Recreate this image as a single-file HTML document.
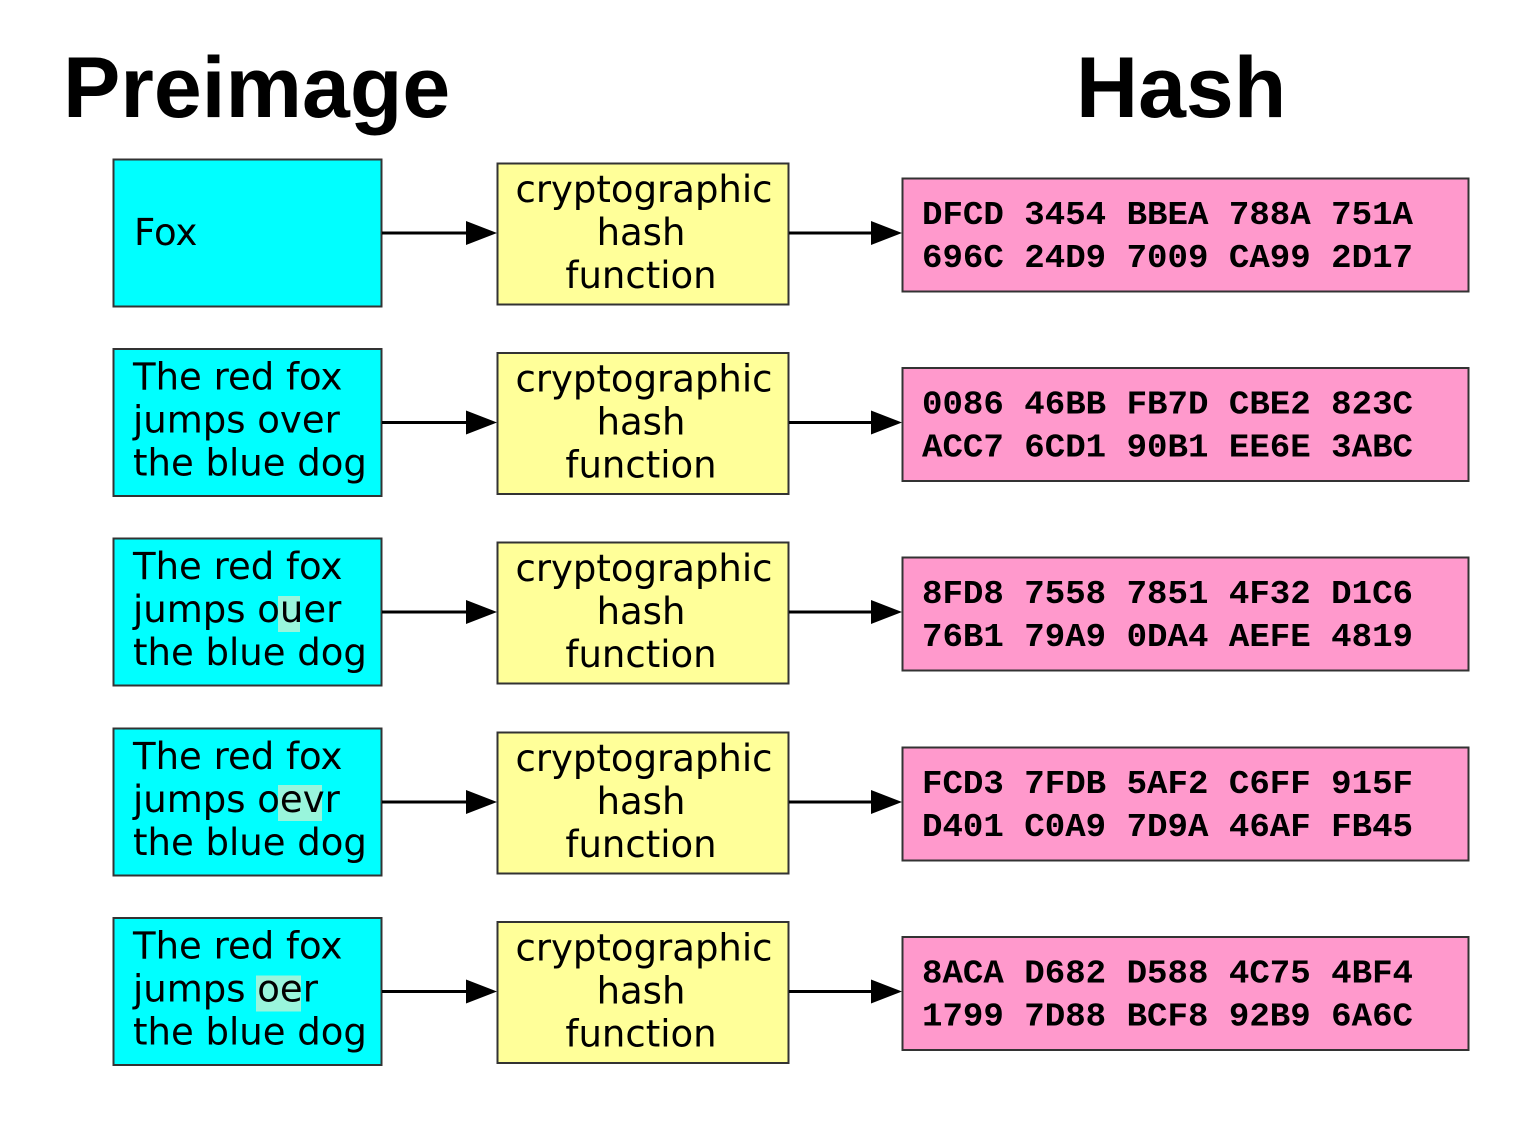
<!DOCTYPE html>
<html><head><meta charset="utf-8"><style>html,body{margin:0;padding:0;background:#fff}</style></head>
<body>
<svg width="1538" height="1122" viewBox="0 0 1538 1122" xmlns="http://www.w3.org/2000/svg">
<text x="63" y="117" font-family="Liberation Sans, sans-serif" font-weight="bold" font-size="86">Preimage</text>
<text x="1076" y="117" font-family="Liberation Sans, sans-serif" font-weight="bold" font-size="86">Hash</text>
<g font-family="DejaVu Sans, sans-serif" font-size="37">
<g>
<rect x="113.5" y="159.5" width="268" height="147" fill="#00ffff" stroke="#333" stroke-width="2"/>
<text x="134" y="245">Fox</text>
</g>
<g transform="translate(0,189.5)">
<rect x="113.5" y="159.5" width="268" height="147" fill="#00ffff" stroke="#333" stroke-width="2"/>
<text x="133" y="200">The red fox</text><text x="133" y="243">jumps over</text><text x="133" y="286">the blue dog</text>
</g>
<g transform="translate(0,379)">
<rect x="113.5" y="159.5" width="268" height="147" fill="#00ffff" stroke="#333" stroke-width="2"/>
<rect x="278" y="217" width="22" height="36" fill="#99f5dc"/>
<text x="133" y="200">The red fox</text><text x="133" y="243">jumps ouer</text><text x="133" y="286">the blue dog</text>
</g>
<g transform="translate(0,569)">
<rect x="113.5" y="159.5" width="268" height="147" fill="#00ffff" stroke="#333" stroke-width="2"/>
<rect x="278" y="216" width="44" height="36" fill="#99f5dc"/>
<text x="133" y="200">The red fox</text><text x="133" y="243">jumps oevr</text><text x="133" y="286">the blue dog</text>
</g>
<g transform="translate(0,758.5)">
<rect x="113.5" y="159.5" width="268" height="147" fill="#00ffff" stroke="#333" stroke-width="2"/>
<rect x="256" y="217" width="45" height="36" fill="#99f5dc"/>
<text x="133" y="200">The red fox</text><text x="133" y="243">jumps oer</text><text x="133" y="286">the blue dog</text>
</g>
</g>

<g>
<rect x="497.5" y="163.5" width="291" height="141" fill="#ffff99" stroke="#333" stroke-width="2"/>
<g font-family="DejaVu Sans, sans-serif" font-size="37" text-anchor="middle"><text x="644" y="202">cryptographic</text><text x="641" y="245">hash</text><text x="641" y="288">function</text></g>
<rect x="902.5" y="178.5" width="566" height="113" fill="#ff99cc" stroke="#333" stroke-width="2"/>
<g font-family="Liberation Mono, monospace" font-size="33" font-weight="bold"><text x="922" y="224" textLength="491" lengthAdjust="spacingAndGlyphs">DFCD 3454 BBEA 788A 751A</text><text x="922" y="267" textLength="491" lengthAdjust="spacingAndGlyphs">696C 24D9 7009 CA99 2D17</text></g>
<line x1="382" y1="233" x2="468" y2="233" stroke="#000" stroke-width="3"/><polygon points="466,221 497,233 466,245" fill="#000"/>
<line x1="789" y1="233" x2="873" y2="233" stroke="#000" stroke-width="3"/><polygon points="871,221 902,233 871,245" fill="#000"/>
</g>

<g transform="translate(0,189.5)">
<rect x="497.5" y="163.5" width="291" height="141" fill="#ffff99" stroke="#333" stroke-width="2"/>
<g font-family="DejaVu Sans, sans-serif" font-size="37" text-anchor="middle"><text x="644" y="202">cryptographic</text><text x="641" y="245">hash</text><text x="641" y="288">function</text></g>
<rect x="902.5" y="178.5" width="566" height="113" fill="#ff99cc" stroke="#333" stroke-width="2"/>
<g font-family="Liberation Mono, monospace" font-size="33" font-weight="bold"><text x="922" y="224" textLength="491" lengthAdjust="spacingAndGlyphs">0086 46BB FB7D CBE2 823C</text><text x="922" y="267" textLength="491" lengthAdjust="spacingAndGlyphs">ACC7 6CD1 90B1 EE6E 3ABC</text></g>
<line x1="382" y1="233" x2="468" y2="233" stroke="#000" stroke-width="3"/><polygon points="466,221 497,233 466,245" fill="#000"/>
<line x1="789" y1="233" x2="873" y2="233" stroke="#000" stroke-width="3"/><polygon points="871,221 902,233 871,245" fill="#000"/>
</g>

<g transform="translate(0,379)">
<rect x="497.5" y="163.5" width="291" height="141" fill="#ffff99" stroke="#333" stroke-width="2"/>
<g font-family="DejaVu Sans, sans-serif" font-size="37" text-anchor="middle"><text x="644" y="202">cryptographic</text><text x="641" y="245">hash</text><text x="641" y="288">function</text></g>
<rect x="902.5" y="178.5" width="566" height="113" fill="#ff99cc" stroke="#333" stroke-width="2"/>
<g font-family="Liberation Mono, monospace" font-size="33" font-weight="bold"><text x="922" y="224" textLength="491" lengthAdjust="spacingAndGlyphs">8FD8 7558 7851 4F32 D1C6</text><text x="922" y="267" textLength="491" lengthAdjust="spacingAndGlyphs">76B1 79A9 0DA4 AEFE 4819</text></g>
<line x1="382" y1="233" x2="468" y2="233" stroke="#000" stroke-width="3"/><polygon points="466,221 497,233 466,245" fill="#000"/>
<line x1="789" y1="233" x2="873" y2="233" stroke="#000" stroke-width="3"/><polygon points="871,221 902,233 871,245" fill="#000"/>
</g>

<g transform="translate(0,569)">
<rect x="497.5" y="163.5" width="291" height="141" fill="#ffff99" stroke="#333" stroke-width="2"/>
<g font-family="DejaVu Sans, sans-serif" font-size="37" text-anchor="middle"><text x="644" y="202">cryptographic</text><text x="641" y="245">hash</text><text x="641" y="288">function</text></g>
<rect x="902.5" y="178.5" width="566" height="113" fill="#ff99cc" stroke="#333" stroke-width="2"/>
<g font-family="Liberation Mono, monospace" font-size="33" font-weight="bold"><text x="922" y="224" textLength="491" lengthAdjust="spacingAndGlyphs">FCD3 7FDB 5AF2 C6FF 915F</text><text x="922" y="267" textLength="491" lengthAdjust="spacingAndGlyphs">D401 C0A9 7D9A 46AF FB45</text></g>
<line x1="382" y1="233" x2="468" y2="233" stroke="#000" stroke-width="3"/><polygon points="466,221 497,233 466,245" fill="#000"/>
<line x1="789" y1="233" x2="873" y2="233" stroke="#000" stroke-width="3"/><polygon points="871,221 902,233 871,245" fill="#000"/>
</g>

<g transform="translate(0,758.5)">
<rect x="497.5" y="163.5" width="291" height="141" fill="#ffff99" stroke="#333" stroke-width="2"/>
<g font-family="DejaVu Sans, sans-serif" font-size="37" text-anchor="middle"><text x="644" y="202">cryptographic</text><text x="641" y="245">hash</text><text x="641" y="288">function</text></g>
<rect x="902.5" y="178.5" width="566" height="113" fill="#ff99cc" stroke="#333" stroke-width="2"/>
<g font-family="Liberation Mono, monospace" font-size="33" font-weight="bold"><text x="922" y="224" textLength="491" lengthAdjust="spacingAndGlyphs">8ACA D682 D588 4C75 4BF4</text><text x="922" y="267" textLength="491" lengthAdjust="spacingAndGlyphs">1799 7D88 BCF8 92B9 6A6C</text></g>
<line x1="382" y1="233" x2="468" y2="233" stroke="#000" stroke-width="3"/><polygon points="466,221 497,233 466,245" fill="#000"/>
<line x1="789" y1="233" x2="873" y2="233" stroke="#000" stroke-width="3"/><polygon points="871,221 902,233 871,245" fill="#000"/>
</g>
</svg>
</body></html>
